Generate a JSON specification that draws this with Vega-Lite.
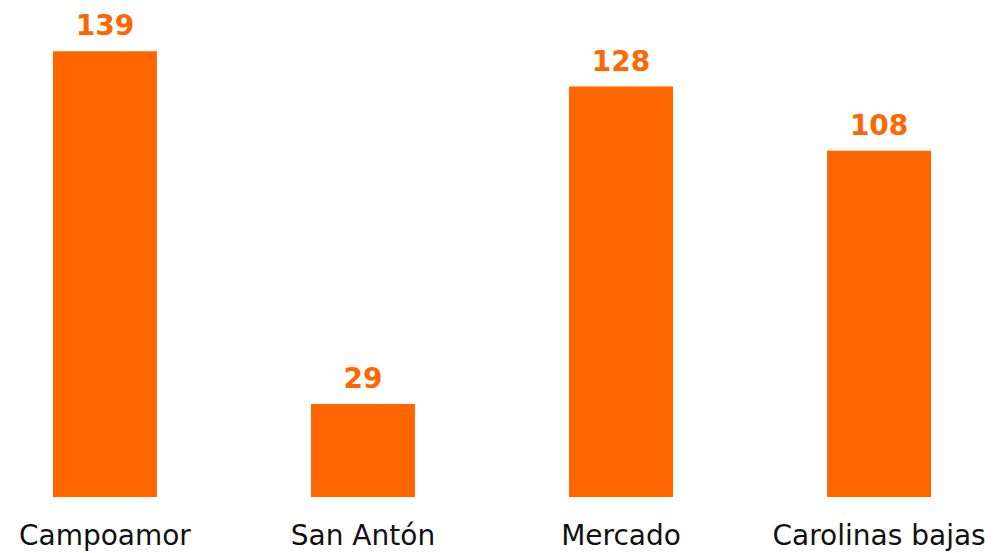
{
  "$schema": "https://vega.github.io/schema/vega-lite/v6.json",
  "width": 984,
  "height": 497,
  "padding": {"left": 0, "top": 0, "right": 9, "bottom": 56},
  "autosize": {"type": "none"},
  "background": "white",
  "config": {"view": {"stroke": null}},
  "data": {"values": [
    {"barrio": "Campoamor", "valor": 139},
    {"barrio": "San Antón", "valor": 29},
    {"barrio": "Mercado", "valor": 128},
    {"barrio": "Carolinas bajas", "valor": 108}
  ]},
  "encoding": {
    "x": {"field": "barrio", "type": "nominal", "sort": null,
      "scale": {"paddingInner": 0.597, "paddingOuter": 0.205},
      "axis": {"title": null, "domain": false, "ticks": false, "tickSize": 0, "labelAngle": 0,
        "labelFont": "DejaVu Sans", "labelFontSize": 28, "labelColor": "#111111",
        "labelBaseline": "alphabetic", "labelPadding": 47, "labelLimit": 0, "labelOverlap": false}},
    "y": {"field": "valor", "type": "quantitative",
      "scale": {"domain": [0, 155], "nice": false},
      "axis": null}
  },
  "layer": [
    {"mark": {"type": "bar", "color": "#FF6600"}},
    {"mark": {"type": "text", "color": "#FF6600", "font": "DejaVu Sans", "fontWeight": "bold",
      "fontSize": 28, "baseline": "alphabetic", "dy": -16},
     "encoding": {"text": {"field": "valor", "type": "quantitative"}}}
  ]
}
